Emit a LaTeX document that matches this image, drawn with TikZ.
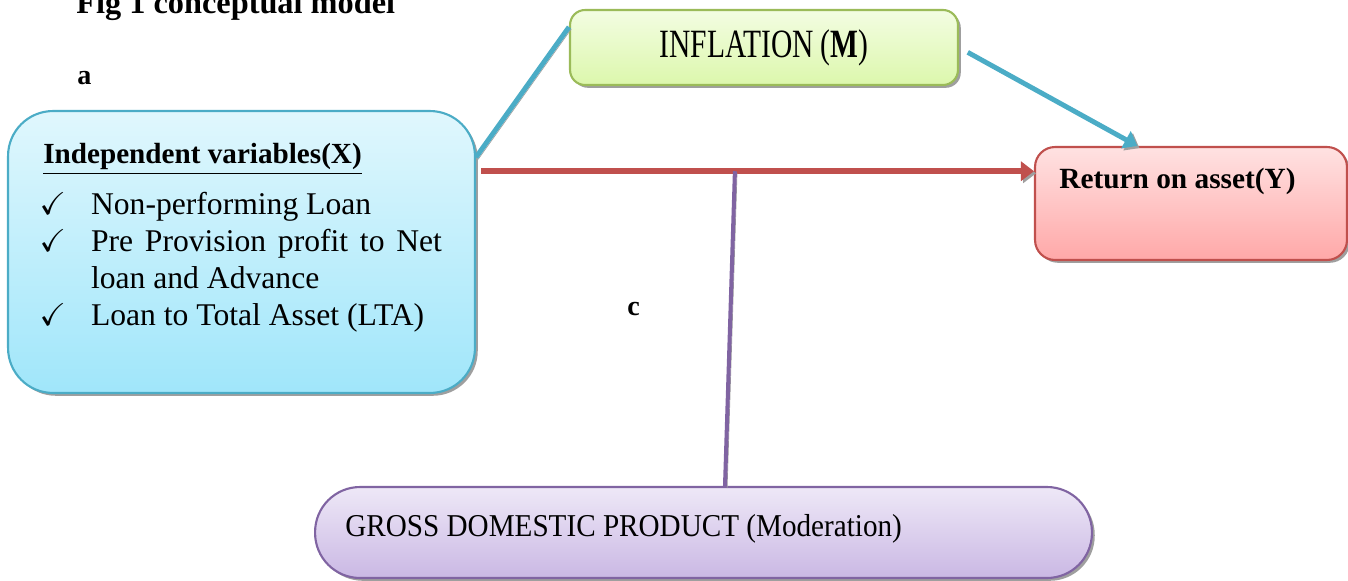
\documentclass[tikz,border=0pt]{standalone}
\usepackage{fontspec}
\setmainfont{Liberation Serif}
\usepackage{amssymb}
\usepackage{graphicx}
\usetikzlibrary{calc,shadows,arrows.meta}

\definecolor{xline}{RGB}{75,172,198}
\definecolor{xtop}{RGB}{224,247,253}
\definecolor{xbot}{RGB}{160,230,250}
\definecolor{mline}{RGB}{155,187,89}
\definecolor{mtop}{RGB}{243,253,226}
\definecolor{mbot}{RGB}{220,247,172}
\definecolor{yline}{RGB}{192,80,77}
\definecolor{ytop}{RGB}{255,226,226}
\definecolor{ybot}{RGB}{255,168,168}
\definecolor{gline}{RGB}{128,100,162}
\definecolor{gtop}{RGB}{238,232,247}
\definecolor{gbot}{RGB}{202,184,228}

\begin{document}
\begin{tikzpicture}[x=0.02cm,y=0.02cm,
    box/.style={draw, line width=1.2pt, inner sep=0pt,
      drop shadow={shadow xshift=1.6pt,shadow yshift=-1.6pt,fill=gray!75,opacity=1}},
    link/.style={line width=2.8pt,
      preaction={draw=gray!75, transform canvas={shift={(1.2pt,-1.2pt)}}}},
    tip/.style={-{Triangle[length=0.26cm,width=0.38cm]}}
  ]
  \useasboundingbox (0,0) rectangle (1348,-581);

  % boxes
  \node[box, draw=xline, top color=xtop, bottom color=xbot, rounded corners=0.9cm,
        minimum width=9.34cm, minimum height=5.64cm] (X) at (241.5,-252) {};
  \node[box, draw=mline, top color=mtop, bottom color=mbot, rounded corners=0.3cm,
        minimum width=7.76cm, minimum height=1.5cm, font=\fontsize{16.8}{20}\selectfont]
        (M) at (764,-47.5) {\scalebox{1}[1.36]{INFLATION (\textbf{M})}};
  \node[box, draw=yline, top color=ytop, bottom color=ybot, rounded corners=0.4cm,
        minimum width=6.24cm, minimum height=2.26cm] (Y) at (1191,-203.5) {};
  \node[box, draw=gline, top color=gtop, bottom color=gbot, rounded corners=0.9cm,
        minimum width=15.54cm, minimum height=1.82cm] (G) at (703.5,-532.5) {};

  % texts
  \node[anchor=base west, inner sep=0pt, font=\bfseries\fontsize{18.4}{22}\selectfont]
        (title) at (76,-14) {Fig 1 conceptual model};
  \node[anchor=base west, inner sep=0pt, font=\bfseries\fontsize{16}{19}\selectfont] (la) at (77,-85) {a};
  \node[anchor=base west, inner sep=0pt, font=\bfseries\fontsize{16}{19}\selectfont] (lc) at (627,-315) {c};
  \node[anchor=base west, inner sep=0pt, font=\bfseries\fontsize{16.6}{20}\selectfont]
        (xhead) at (43,-163) {\underline{Independent variables(X)}};
  \node[anchor=north west, inner sep=0pt, text width=7.02cm, align=justify,
        font=\fontsize{18}{21}\selectfont] (xlist) at (90.7,-192)
        {\parindent=0pt
         \noindent\llap{$\checkmark$\hspace{0.5cm}}Non-performing Loan\par
         \noindent\llap{$\checkmark$\hspace{0.5cm}}Pre Provision profit to Net loan and Advance\par
         \noindent\llap{$\checkmark$\hspace{0.5cm}}Loan to Total Asset (LTA)};
  \node[anchor=base west, inner sep=0pt, font=\bfseries\fontsize{16.7}{20}\selectfont]
        (ylab) at ($(Y.north west)+(25,-43)$) {Return on asset(Y)};
  \node[anchor=base west, inner sep=0pt, font=\fontsize{16.6}{20}\selectfont]
        (glab) at (345,-536) {\scalebox{1}[1.09]{GROSS DOMESTIC PRODUCT (Moderation)}};

  % connectors
  \draw[link, draw=xline] (X.22) -- (M.174);
  \draw[link, draw=xline, tip, shorten <=0.2cm] (M.east) -- (Y.133);
  \draw[link, draw=yline, line width=3.4pt, tip, shorten <=0.1cm]
        (X.19) -- coordinate[pos=0.464] (fork) (X.19 -| Y.west);
  \draw[link, draw=gline, line width=2.3pt] (fork) -- ($(G.north)+(21.5,0)$);
\end{tikzpicture}
\end{document}
